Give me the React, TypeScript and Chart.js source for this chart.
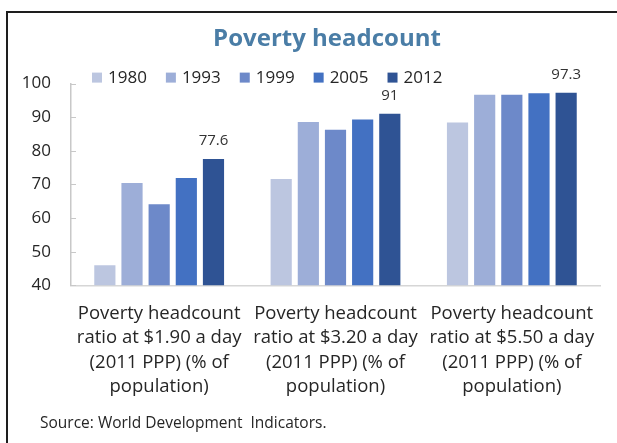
import React, { useEffect, useRef } from 'react';
import { Chart, registerables } from 'chart.js';

Chart.register(...registerables);

const FONT = '"Open Sans", "Noto Sans", sans-serif';

const categories: string[][] = [
  ['Poverty headcount', 'ratio at $1.90 a day', '(2011 PPP) (% of', 'population)'],
  ['Poverty headcount', 'ratio at $3.20 a day', '(2011 PPP) (% of', 'population)'],
  ['Poverty headcount', 'ratio at $5.50 a day', '(2011 PPP) (% of', 'population)'],
];
const years = ['1980', '1993', '1999', '2005', '2012'];
const values1980 = [46.0, 71.6, 88.4];
const values1993 = [70.4, 88.6, 96.7];
const values1999 = [64.1, 86.3, 96.7];
const values2005 = [71.9, 89.3, 97.1];
const values2012 = [77.6, 91.0, 97.3];
const labeledYear = '2012';
const yMin = 40;
const yMax = 100;
const yStep = 10;
const seriesColors = ['#BCC6E0', '#9DAED8', '#6D89C9', '#4371C2', '#2F5394'];

const titleText = 'Poverty headcount';
const sourceText = 'Source: World Development  Indicators.';

const insetLegend = {
  id: 'insetLegend',
  afterDraw(chart: any) {
    const { ctx, chartArea } = chart;
    ctx.save();
    ctx.font = `17px ${FONT}`;
    ctx.textBaseline = 'middle';
    let x = chartArea.left + 21;
    const y = chartArea.top - 6;
    chart.data.datasets.forEach((ds: any) => {
      ctx.fillStyle = ds.backgroundColor;
      ctx.fillRect(x, y - 5, 10, 10);
      x += 16;
      ctx.fillStyle = '#262626';
      ctx.fillText(ds.label, x, y + 1);
      x += ctx.measureText(ds.label).width + 19;
    });
    ctx.restore();
  },
};

const valueLabels = {
  id: 'valueLabels',
  afterDatasetsDraw(chart: any) {
    const { ctx } = chart;
    ctx.save();
    ctx.font = `15px ${FONT}`;
    ctx.fillStyle = '#333333';
    ctx.textAlign = 'center';
    ctx.textBaseline = 'alphabetic';
    chart.data.datasets.forEach((ds: any, i: number) => {
      if (ds.label !== labeledYear) return;
      const meta = chart.getDatasetMeta(i);
      meta.data.forEach((bar: any, j: number) => {
        ctx.fillText(String(ds.data[j]), bar.x, bar.y - 14);
      });
    });
    ctx.restore();
  },
};

const innerTicks = {
  id: 'innerTicks',
  afterDraw(chart: any) {
    const { ctx, chartArea } = chart;
    const scale = chart.scales.y;
    ctx.save();
    ctx.strokeStyle = '#C8C8C8';
    ctx.lineWidth = 1;
    scale.ticks.forEach((t: any) => {
      const y = Math.round(scale.getPixelForValue(t.value)) + 0.5;
      ctx.beginPath();
      ctx.moveTo(chartArea.left, y);
      ctx.lineTo(chartArea.left + 5, y);
      ctx.stroke();
    });
    ctx.restore();
  },
};

// lets the y tick labels extend to the left of the (narrow) y scale box
const widenYLabelArea = {
  id: 'widenYLabelArea',
  afterLayout(chart: any) {
    chart.scales.y.left = 0;
  },
};

export default function App() {
  const canvasRef = useRef<HTMLCanvasElement | null>(null);

  useEffect(() => {
    document.body.style.margin = '0';
    const canvas = canvasRef.current;
    if (!canvas) return;
    const seriesValues = [values1980, values1993, values1999, values2005, values2012];
    const chart = new Chart(canvas, {
      type: 'bar',
      data: {
        labels: categories,
        datasets: years.map((y, i) => ({
          label: y,
          data: seriesValues[i],
          backgroundColor: seriesColors[i],
          categoryPercentage: 0.77,
          barPercentage: 0.78,
        })),
      },
      options: {
        responsive: false,
        animation: false,
        layout: { padding: { left: 54, right: 17, top: 20, bottom: 28 } },
        plugins: {
          legend: { display: false },
          tooltip: { enabled: false },
          title: {
            display: true,
            text: titleText,
            color: '#4A7DA6',
            font: { family: FONT, size: 24, weight: 'bold', lineHeight: 1.15 },
            padding: { top: 5, bottom: 31 },
          },
        },
        scales: {
          x: {
            grid: { display: false, drawTicks: false, tickLength: 0 },
            border: { display: true, color: '#D6D6D6', width: 1.5 },
            ticks: {
              font: { family: FONT, size: 18.5, lineHeight: 1.32 },
              color: '#262626',
              padding: 16,
              maxRotation: 0,
              autoSkip: false,
            },
          },
          y: {
            min: yMin,
            max: yMax,
            grid: { display: false, drawTicks: false, tickLength: 0 },
            border: { display: true, color: '#C8C8C8', width: 1.5 },
            ticks: {
              stepSize: yStep,
              font: { family: FONT, size: 17 },
              color: '#262626',
              padding: 20,
            },
            afterFit(scale: any) {
              scale.width = 17;
            },
          },
        },
      },
      plugins: [widenYLabelArea, insetLegend, valueLabels, innerTicks],
    } as any);
    return () => chart.destroy();
  }, []);

  return (
    <div style={{ position: 'relative', width: 617, height: 443, overflow: 'hidden', background: '#fff' }}>
      <div
        style={{
          position: 'absolute',
          left: 6,
          top: 11,
          width: 700,
          height: 500,
          borderLeft: '2px solid #1e1e1e',
          borderTop: '2px solid #1e1e1e',
          boxSizing: 'border-box',
        }}
      />
      <canvas ref={canvasRef} width={617} height={443} style={{ position: 'absolute', left: 0, top: 0, display: 'block' }} />
      <div
        style={{
          position: 'absolute',
          left: 40,
          top: 412,
          font: `15.5px ${FONT}`,
          lineHeight: '20px',
          color: '#262626',
          whiteSpace: 'pre',
        }}
      >
        {sourceText}
      </div>
    </div>
  );
}
